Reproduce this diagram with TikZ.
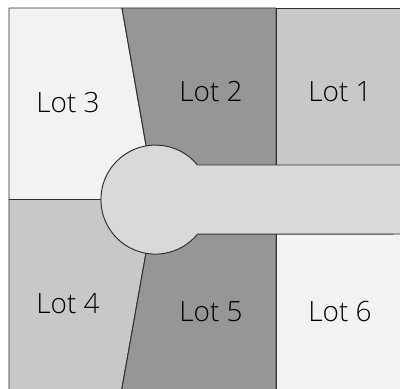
\documentclass[tikz,border=0pt]{standalone}
\usepackage{fontspec}
\setmainfont{Open Sans Light}
\usepackage{xcolor}
\definecolor{lineColor}{HTML}{303030}
\definecolor{lightLot}{HTML}{F2F2F2}
\definecolor{midLot}{HTML}{C8C8C8}
\definecolor{darkLot}{HTML}{969696}
\definecolor{roadColor}{HTML}{D9D9D9}

\begin{document}
\begin{tikzpicture}[
lotEdge/.style={draw=lineColor,line width=0.55pt,line join=round},
lightArea/.style={lotEdge,fill=lightLot},
midArea/.style={lotEdge,fill=midLot},
darkArea/.style={lotEdge,fill=darkLot},
roadArea/.style={lotEdge,fill=roadColor},
lotLabel/.style={text=black,font=\fontsize{15.9}{18}\selectfont,inner sep=0}
]
\clip (0,0) rectangle (8,7.76);
\coordinate (ctr) at (3.11,3.77);
\fill[white] (0,0) rectangle (8,7.76);
\draw[lightArea] (0.18,7.6) -- (2.44,7.6) -- (ctr) -- (0.18,3.77) -- cycle;
\draw[darkArea] (2.44,7.6) -- (5.52,7.6) -- (5.52,3.77) -- (ctr) -- cycle;
\draw[midArea] (5.52,7.6) -- (8.2,7.6) -- (8.2,3.77) -- (5.52,3.77) -- cycle;
\draw[midArea] (0.18,3.77) -- (ctr) -- (2.405,-0.2) -- (0.18,-0.2) -- cycle;
\draw[darkArea] (ctr) -- (5.52,3.77) -- (5.52,-0.2) -- (2.405,-0.2) -- cycle;
\draw[lightArea] (5.52,3.77) -- (8.2,3.77) -- (8.2,-0.2) -- (5.52,-0.2) -- cycle;
\draw[roadArea] (8.2,4.46) -- (3.95,4.46) arc[start angle=39.4,end angle=320.6,radius=1.09] -- (8.2,3.08);
\node[lotLabel] (lot1) at (6.8,5.93) {Lot 1};
\node[lotLabel] (lot2) at (4.22,5.93) {Lot 2};
\node[lotLabel] (lot3) at (1.36,5.71) {Lot 3};
\node[lotLabel] (lot4) at (1.36,1.69) {Lot 4};
\node[lotLabel] (lot5) at (4.22,1.53) {Lot 5};
\node[lotLabel] (lot6) at (6.8,1.53) {Lot 6};
\end{tikzpicture}
\end{document}
